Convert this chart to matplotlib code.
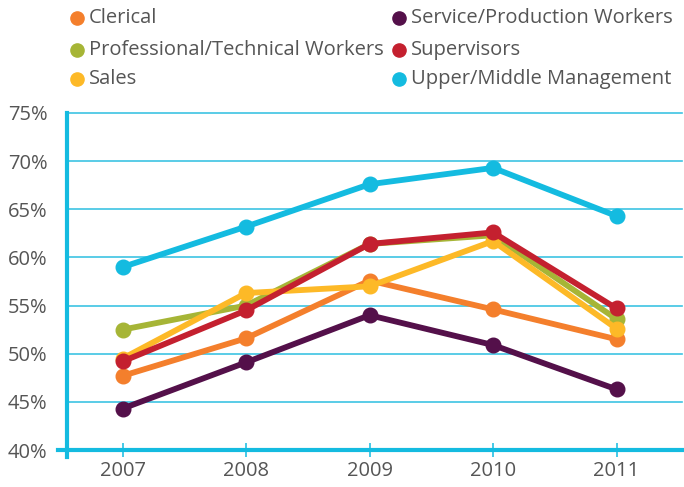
import numpy as np
import matplotlib
matplotlib.use("Agg")
import matplotlib.pyplot as plt
from matplotlib.lines import Line2D

# -------------------------------
# DATA
# -------------------------------
years = [2007, 2008, 2009, 2010, 2011]

clerical = [47.7, 51.6, 57.6, 54.6, 51.5]
professional = [52.5, 55.0, 61.4, 62.3, 53.6]
sales = [49.5, 56.3, 57.0, 61.7, 52.6]
service = [44.3, 49.1, 54.0, 50.9, 46.3]
supervisors = [49.2, 54.5, 61.4, 62.6, 54.7]
upper = [59.0, 63.2, 67.6, 69.3, 64.3]

names = ["Clerical", "Professional/Technical Workers", "Sales",
         "Service/Production Workers", "Supervisors", "Upper/Middle Management"]
series = [clerical, professional, sales, service, supervisors, upper]
colors = ["#F47F2C", "#A6B536", "#FDB927", "#54104A", "#C4202F", "#14BBE0"]

yticks = [40, 45, 50, 55, 60, 65, 70, 75]

CYAN = "#14BBE0"
GRID = "#3DC3E3"
TXT = "#555555"

plt.rcParams["font.family"] = ["Open Sans", "DejaVu Sans"]

W, H = 684, 487
fig = plt.figure(figsize=(W / 100, H / 100), dpi=100)
ax = fig.add_axes([67 / W, 1 - 450 / H, (682 - 67) / W, (450 - 113) / H])

# -------------------------------
# LINES
# -------------------------------
draw_order = [3, 0, 2, 1, 4, 5]
for i in draw_order:
    ax.plot(years, series[i], color=colors[i], lw=4.2, marker="o",
            markersize=10.5, solid_capstyle="round", zorder=3 + i * 0.1)

ax.set_xlim(2006.55, 2011.53)
ax.set_ylim(40, 75)
ax.set_yticks(yticks)
ax.set_yticklabels([f"{t}%" for t in yticks])
ax.set_xticks(years)
ax.set_xticklabels([str(y) for y in years])

for t in yticks[1:]:
    ax.axhline(t, color=GRID, lw=1.2, zorder=1, clip_on=False)

for s in ax.spines.values():
    s.set_visible(False)

# axis lines that stick out a bit past the plot corner
ax.add_line(Line2D([0, 0], [-0.02, 1.0], transform=ax.transAxes, color=CYAN,
                   lw=3.0, clip_on=False, zorder=2))
ax.add_line(Line2D([-0.015, 1.0], [0, 0], transform=ax.transAxes, color=CYAN,
                   lw=3.0, clip_on=False, zorder=2))

ax.tick_params(axis="y", length=0, pad=14, labelsize=14.5, labelcolor=TXT)
ax.tick_params(axis="x", direction="inout", length=10, width=1.1, color=CYAN,
               pad=3, labelsize=14.5, labelcolor=TXT)

# -------------------------------
# LEGEND (two columns, placed by hand)
# -------------------------------
col_x = [77, 399]
row_y = [18, 50, 79]
for k, (name, c) in enumerate(zip(names, colors)):
    cx = col_x[k // 3]
    cy = row_y[k % 3]
    fig.add_artist(Line2D([cx / W], [1 - cy / H], transform=fig.transFigure,
                          ls="none", marker="o", markersize=9.5, color=c))
    fig.text((cx + 12) / W, 1 - cy / H, name, fontsize=14.5, color=TXT,
             va="center", ha="left")

fig.savefig("out.png", dpi=100)
